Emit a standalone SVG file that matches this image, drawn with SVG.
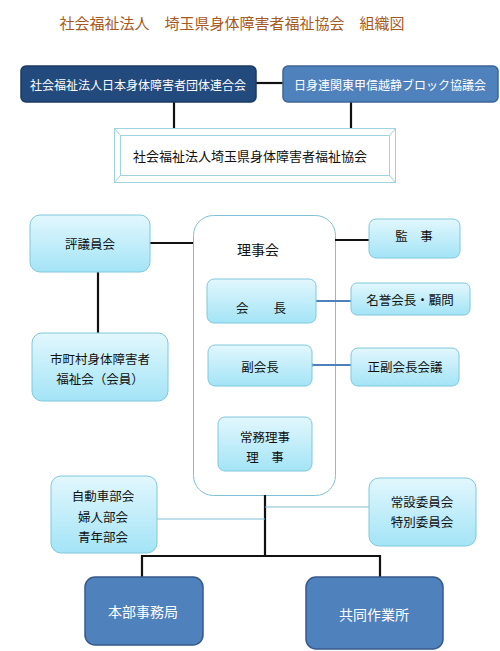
<svg xmlns="http://www.w3.org/2000/svg" width="500" height="651" viewBox="0 0 500 651">
<defs>
<linearGradient id="lg" x1="0" y1="0" x2="0" y2="1">
<stop offset="0" stop-color="#e2f7fd"/>
<stop offset="1" stop-color="#a3e4f6"/>
</linearGradient>
<marker id="ah" viewBox="0 0 6 6" refX="1" refY="3" markerWidth="4" markerHeight="4" orient="auto">
<path d="M6,0 L0,3 L6,6 z" fill="#4f81bd"/>
</marker>
<style>
text{font-family:"Noto Sans CJK JP","Noto Sans CJK SC",sans-serif;text-anchor:middle;dominant-baseline:central}
.t{font-size:12.5px;fill:#111}
.w{font-size:12px;fill:#fff}
.big{font-size:14px;fill:#fff}
.lb{fill:url(#lg);stroke:#7fc8dc;stroke-width:1}
.blk{stroke:#111;stroke-width:2.2;fill:none}
.thin{stroke:#7fc0d6;stroke-width:1;fill:none}
.blu{stroke:#4f81bd;stroke-width:2.2;fill:none}
</style>
</defs>
<rect width="500" height="651" fill="#fff"/>
<text x="232" y="22" style="font-size:15px;fill:#a65a1f">社会福祉法人　埼玉県身体障害者福祉協会　組織図</text>
<g id="rijikai">
<rect x="193.5" y="215.5" width="142" height="280" rx="20" fill="#fff" stroke="#7fc0d6" stroke-width="1"/>
<text x="258" y="249" style="font-size:14px;fill:#111">理事会</text>
</g>
<g id="connectors">
<line class="blk" x1="256" y1="83" x2="283" y2="83"/>
<line class="blk" x1="174" y1="102" x2="174" y2="128"/>
<line class="blk" x1="351" y1="102" x2="351" y2="128"/>
<line class="blk" x1="150" y1="243" x2="193" y2="243"/>
<line class="blk" x1="98" y1="272" x2="98" y2="333"/>
<line class="blk" x1="335" y1="240" x2="369" y2="240"/>
<line class="blu" x1="316" y1="301" x2="351" y2="301"/>
<line class="blu" x1="351" y1="365" x2="314" y2="365" marker-end="url(#ah)"/>
<line class="blk" x1="265" y1="495" x2="265" y2="556"/>
<line class="thin" x1="157" y1="519" x2="265" y2="519"/>
<line class="thin" x1="265" y1="507" x2="369" y2="507"/>
<polyline class="blk" points="142,577 142,556 380,556 380,577"/>
</g>
<g id="jfd">
<rect x="21" y="66" width="235" height="36" rx="5" fill="#234a7c" stroke="#1b3a63" stroke-width="1.5"/>
<text class="w" x="138" y="84">社会福祉法人日本身体障害者団体連合会</text>
</g>
<g id="kanto">
<rect x="283" y="66" width="215" height="36" rx="5" fill="#4f81bd" stroke="#3c6595" stroke-width="1.5"/>
<text class="w" x="390" y="84">日身連関東甲信越静ブロック協議会</text>
</g>
<g id="saitama">
<rect x="114.5" y="128.5" width="281" height="54" fill="#fff" stroke="#9fd3e3" stroke-width="1"/>
<rect x="120.5" y="135.5" width="269" height="40" fill="#fff" stroke="#9fd3e3" stroke-width="1"/>
<line x1="114.5" y1="128.5" x2="120.5" y2="135.5" stroke="#9fd3e3"/>
<line x1="395.5" y1="128.5" x2="389.5" y2="135.5" stroke="#9fd3e3"/>
<line x1="114.5" y1="182.5" x2="120.5" y2="175.5" stroke="#9fd3e3"/>
<line x1="395.5" y1="182.5" x2="389.5" y2="175.5" stroke="#9fd3e3"/>
<text class="t" x="250" y="155" style="font-size:13px">社会福祉法人埼玉県身体障害者福祉協会</text>
</g>
<g id="hyogiin">
<rect class="lb" x="30" y="215" width="120" height="57" rx="10"/>
<text class="t" x="90" y="243">評議員会</text>
</g>
<g id="shichoson">
<rect class="lb" x="32" y="333" width="136" height="68" rx="10"/>
<text class="t" x="100" y="358">市町村身体障害者</text>
<text class="t" x="100" y="378">福祉会（会員）</text>
</g>
<g id="kaicho">
<rect class="lb" x="207" y="279" width="109" height="44" rx="7"/>
<text class="t" x="261" y="307">会　　長</text>
</g>
<g id="fukukaicho">
<rect class="lb" x="208" y="345" width="104" height="41" rx="7"/>
<text class="t" x="260" y="366">副会長</text>
</g>
<g id="jomu">
<rect class="lb" x="218" y="417" width="94" height="54" rx="7"/>
<text class="t" x="265" y="436">常務理事</text>
<text class="t" x="265" y="456">理　事</text>
</g>
<g id="kanji">
<rect class="lb" x="369" y="219" width="91" height="39" rx="7"/>
<text class="t" x="414" y="235">監　事</text>
</g>
<g id="meiyo">
<rect class="lb" x="351" y="283" width="119" height="32" rx="6"/>
<text class="t" x="410" y="299">名誉会長・顧問</text>
</g>
<g id="seifuku">
<rect class="lb" x="351" y="348" width="108" height="38" rx="7"/>
<text class="t" x="405" y="366">正副会長会議</text>
</g>
<g id="bukai">
<rect class="lb" x="51" y="476" width="106" height="77" rx="10"/>
<text class="t" x="103" y="495">自動車部会</text>
<text class="t" x="103" y="516">婦人部会</text>
<text class="t" x="103" y="536">青年部会</text>
</g>
<g id="iinkai">
<rect class="lb" x="369" y="478" width="107" height="68" rx="10"/>
<text class="t" x="422" y="501">常設委員会</text>
<text class="t" x="422" y="521">特別委員会</text>
</g>
<g id="honbu">
<rect x="85" y="577" width="118" height="68" rx="10" fill="#4f81bd" stroke="#37598a" stroke-width="1.5"/>
<text class="big" x="143" y="611">本部事務局</text>
</g>
<g id="kyodo">
<rect x="306" y="577" width="137" height="72" rx="10" fill="#4f81bd" stroke="#37598a" stroke-width="1.5"/>
<text class="big" x="374" y="614">共同作業所</text>
</g>
</svg>
